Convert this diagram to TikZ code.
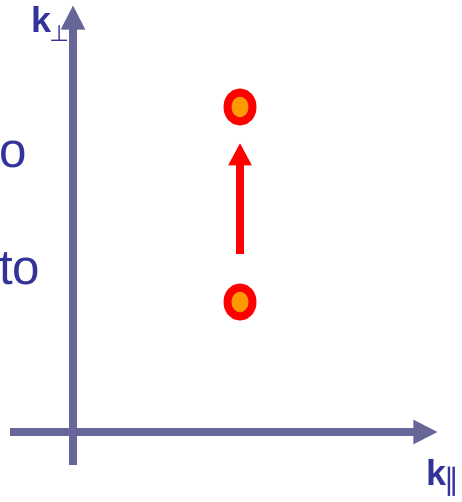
\documentclass[tikz,border=0pt]{standalone}
\usepackage{fontspec}
\setmainfont{Liberation Sans}
\newfontfamily\symfont{DejaVu Sans}
\usetikzlibrary{arrows.meta, shapes.geometric}
\definecolor{axisblue}{HTML}{666699}
\definecolor{textblue}{HTML}{333399}
\definecolor{dotorange}{HTML}{FF9900}

\begin{document}
\begin{tikzpicture}[x=0.75pt, y=-0.75pt,
		ax/.style = {draw=axisblue, line width=6pt, -{Triangle[width=17pt, length=18.5pt]}},
		mv/.style = {draw=red, line width=6pt, -{Triangle[width=16.5pt, length=17pt]}},
		dot/.style = {ellipse, draw=red, fill=dotorange, line width=6pt, minimum width=18.75pt, minimum height=21.75pt, inner sep=0pt},
		lbl/.style = {text=textblue, inner sep=0pt, anchor=base west},
		big/.style = {lbl, font=\fontsize{37}{41}\selectfont},
		kl/.style = {lbl, font=\bfseries\fontsize{27}{30}\selectfont}
		]
		\useasboundingbox (0,0) rectangle (461,502);
		
		%Axes
		\coordinate (ybot) at (73,465);
		\coordinate (ytop) at (73,5);
		\coordinate (xlft) at (10,432);
		\coordinate (xrgt) at (438,432);
		\draw[ax]	(ybot)	--	(ytop);
		\draw[ax]	(xlft)	--	(xrgt);
		
		%Nodes
		\node[kl]	(kperp)	at	(31,33)		{k\kern-1.5pt\raisebox{-6.75pt}{\mdseries\symfont\fontsize{17}{17}\selectfont ⊥}};
		\node[kl]	(kpar)	at	(426,485)	{k\kern-1pt\raisebox{-3.5pt}{\mdseries\symfont\fontsize{22}{22}\selectfont ‖}};
		\node[big]	(w1)	at	(-1,167)	{o};
		\node[big]	(w2)	at	(-1,284)	{to};
		\node[dot]	(hi)	at	(240,107)	{};
		\node[dot]	(lo)	at	(240,302)	{};
		
		%Lines
		\draw[mv, shorten <=22pt, shorten >=13pt]	(lo.north)	--	(hi.south);
	\end{tikzpicture}
\end{document}
